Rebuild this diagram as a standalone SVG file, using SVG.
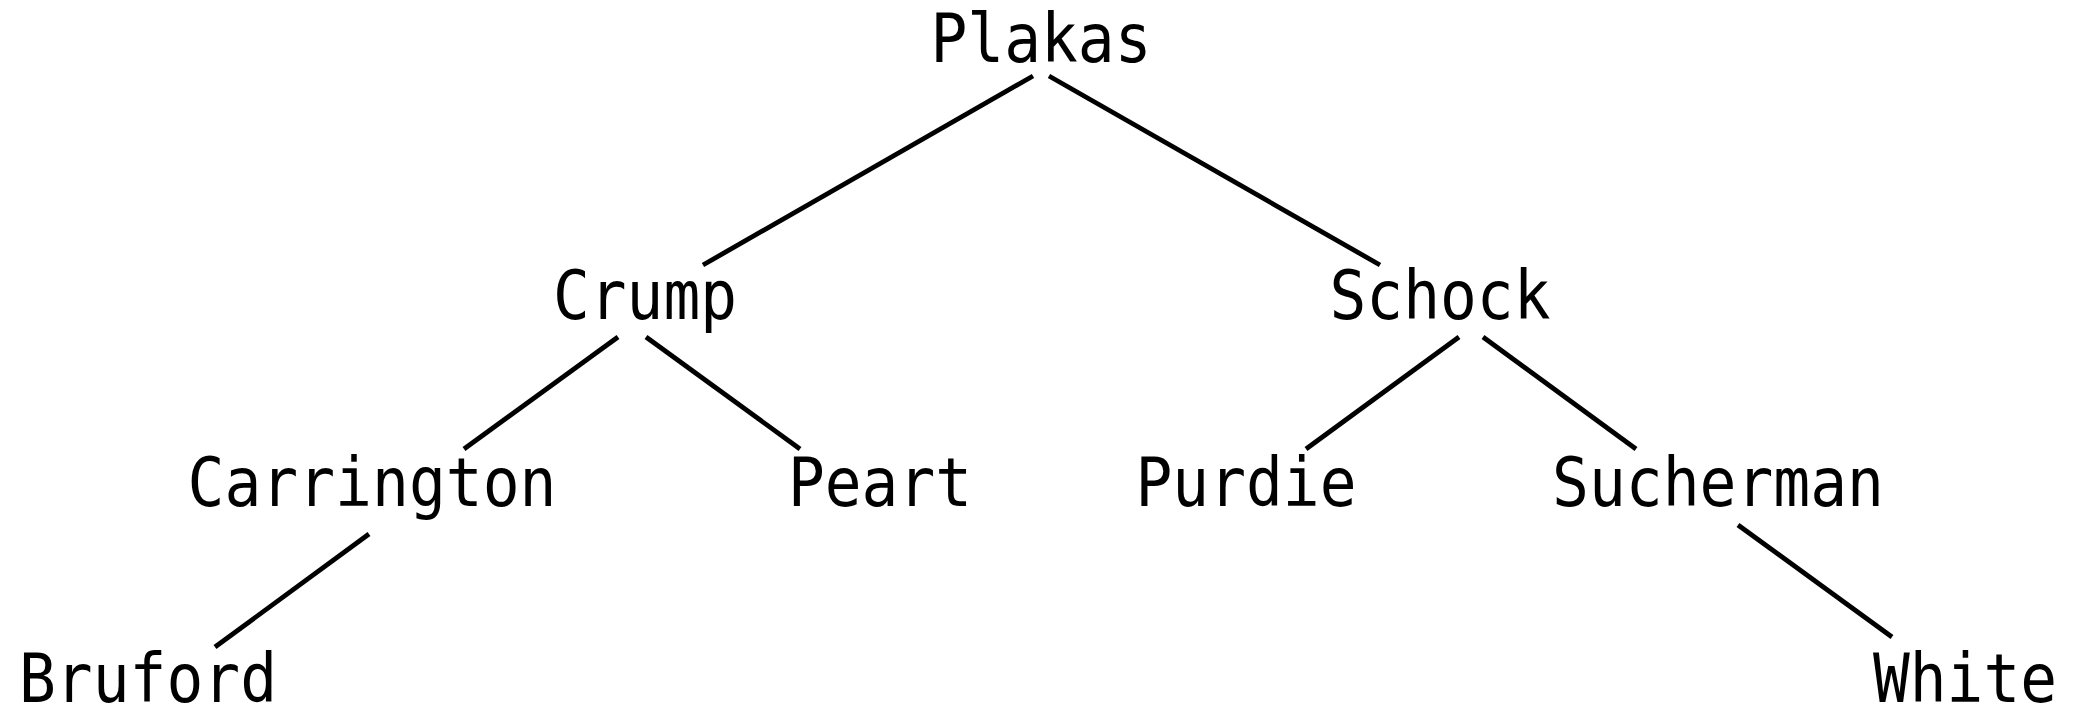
<svg xmlns="http://www.w3.org/2000/svg" width="2074" height="705" viewBox="0 0 2074 705">
<style>
.lbl{font-family:"DejaVu Sans Mono","Liberation Mono",monospace;font-size:68px;fill:#000;text-anchor:middle}
.edge{stroke:#000;stroke-width:4.8;fill:none;stroke-linecap:butt}
</style>
<rect width="2074" height="705" fill="#fff"/>
<g id="connectors">
<line class="edge" x1="1033" y1="76" x2="703" y2="265"/>
<line class="edge" x1="1049" y1="76" x2="1380" y2="265"/>
<line class="edge" x1="618" y1="337" x2="464" y2="449"/>
<line class="edge" x1="646" y1="337" x2="800" y2="449"/>
<line class="edge" x1="1459" y1="337" x2="1306" y2="449"/>
<line class="edge" x1="1483" y1="337" x2="1636" y2="449"/>
<line class="edge" x1="369" y1="534" x2="215" y2="647"/>
<line class="edge" x1="1738" y1="525" x2="1892" y2="637"/>
</g>
<g id="node-plakas"><text class="lbl" x="1041" y="62" textLength="221" lengthAdjust="spacingAndGlyphs">Plakas</text></g>
<g id="node-crump"><text class="lbl" x="645" y="319" textLength="184" lengthAdjust="spacingAndGlyphs">Crump</text></g>
<g id="node-schock"><text class="lbl" x="1440" y="319" textLength="221" lengthAdjust="spacingAndGlyphs">Schock</text></g>
<g id="node-carrington"><text class="lbl" x="372" y="506" textLength="369" lengthAdjust="spacingAndGlyphs">Carrington</text></g>
<g id="node-peart"><text class="lbl" x="880" y="506" textLength="184" lengthAdjust="spacingAndGlyphs">Peart</text></g>
<g id="node-purdie"><text class="lbl" x="1246" y="506" textLength="221" lengthAdjust="spacingAndGlyphs">Purdie</text></g>
<g id="node-sucherman"><text class="lbl" x="1718" y="506" textLength="332" lengthAdjust="spacingAndGlyphs">Sucherman</text></g>
<g id="node-bruford"><text class="lbl" x="148" y="702" textLength="258" lengthAdjust="spacingAndGlyphs">Bruford</text></g>
<g id="node-white"><text class="lbl" x="1965" y="702" textLength="184" lengthAdjust="spacingAndGlyphs">White</text></g>
</svg>
